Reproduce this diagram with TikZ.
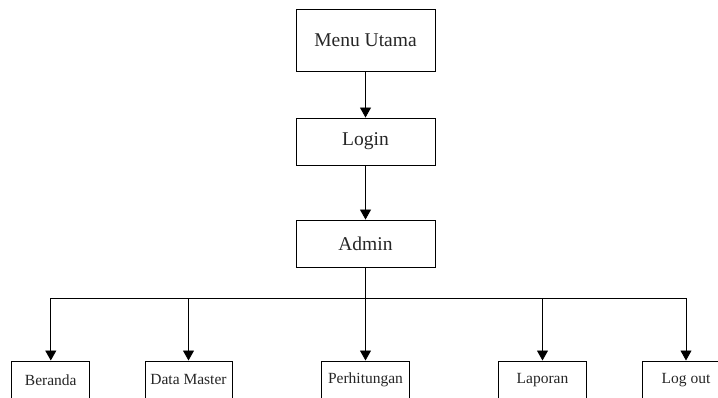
\documentclass[tikz,border=0pt]{standalone}
\usepackage{fontspec}
\newfontfamily\boxfont{Liberation Serif}
\usetikzlibrary{arrows.meta}
\begin{document}
\begin{tikzpicture}[x=1pt,y=-1pt,
  box/.style={draw=black, line width=0.9pt, inner sep=0pt, align=center, text=black!85},
  topbox/.style={box, minimum width=139pt, font=\boxfont\fontsize{19.5}{22}\selectfont},
  leafbox/.style={box, anchor=north, minimum height=38pt, font=\boxfont\fontsize{15.5}{18}\selectfont},
  arr/.style={draw=black, line width=0.9pt, -{Triangle[length=10pt,width=11pt]}}]
  \clip (0,0) rectangle (718,398);
  \fill[white] (0,0) rectangle (718,398);

  % upper chain
  \node[topbox, minimum height=62pt] (menu) at (365.5,40.5) {Menu Utama};
  \node[topbox, minimum height=47pt] (login) at (365.5,141.5) {Login};
  \node[topbox, minimum height=47pt] (admin) at (365.5,243.5) {Admin};

  % menu items of the admin
  \node[leafbox, minimum width=78pt] (beranda) at (50.8,360.5) {Beranda};
  \node[leafbox, minimum width=87pt] (master) at (188.5,360.5) {Data Master};
  \node[leafbox, minimum width=88pt] (hitung) at (365.5,360.5) {Perhitungan};
  \node[leafbox, minimum width=88pt] (laporan) at (542.5,360.5) {Laporan};
  \node[leafbox, minimum width=88pt] (logout) at (686,360.5) {Log out};

  \draw[arr] (menu) -- (login);
  \draw[arr] (login) -- (admin);

  % distribution bus
  \coordinate (bus) at (365.5,298.3);
  \draw[arr] (admin.south) -- (hitung.north);
  \draw[arr] (bus) -| (beranda.north);
  \draw[arr] (bus) -| (master.north);
  \draw[arr] (bus) -| (laporan.north);
  \draw[arr] (bus) -| (logout.north);
\end{tikzpicture}
\end{document}
